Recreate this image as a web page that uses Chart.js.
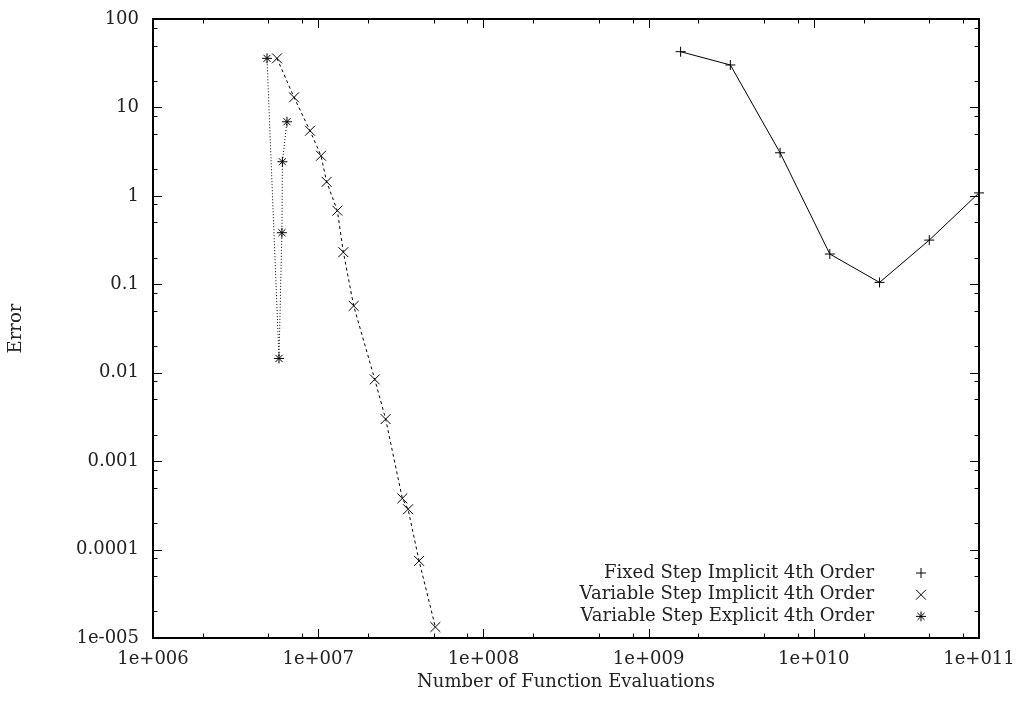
<!DOCTYPE html>
<html>
<head>
<meta charset="utf-8">
<script src="https://cdn.jsdelivr.net/npm/chart.js@4.4.1/dist/chart.umd.min.js"></script>
<style>
  html, body { margin: 0; padding: 0; background: #fff; }
</style>
</head>
<body>
<canvas id="errorChart" width="1021" height="704"></canvas>
<script>
// Error vs. number of function evaluations for the three integrators
const fixedEvals = [1.5625e9, 3.125e9, 6.25e9, 1.25e10, 2.5e10, 5e10, 1e11];
const fixedError = [42.7, 30.2, 3.07, 0.22, 0.105, 0.316, 1.08];

const implicitEvals = [5.63e6, 7.14e6, 8.92e6, 1.04e7, 1.125e7, 1.306e7, 1.42e7, 1.64e7, 2.2e7, 2.56e7, 3.23e7, 3.5e7, 4.08e7, 5.12e7];
const implicitError = [35.9, 13.0, 5.45, 2.84, 1.44, 0.68, 0.231, 0.057, 0.0084, 0.00299, 3.79e-4, 2.86e-4, 7.45e-5, 1.33e-5];

const explicitEvals = [4.9e6, 5.79e6, 6.03e6, 6.07e6, 6.47e6];
const explicitError = [35.9, 0.0145, 0.383, 2.43, 6.89];

const seriesLabels = [
    'Fixed Step Implicit 4th Order',
    'Variable Step Implicit 4th Order',
    'Variable Step Explicit 4th Order'
];

const xTickValues = [1e6, 1e7, 1e8, 1e9, 1e10, 1e11];
const xTickLabels = ['1e+006', '1e+007', '1e+008', '1e+009', '1e+010', '1e+011'];
const yTickValues = [1e-5, 1e-4, 1e-3, 1e-2, 1e-1, 1, 10, 100];
const yTickLabels = ['1e-005', '0.0001', '0.001', '0.01', '0.1', '1', '10', '100'];
const minorSteps = [2, 5, 8];

const FONT = { family: "'DejaVu Serif', serif", size: 18 };
const TEXT = '#222';

const toPoints = (xs, ys) => xs.map((x, i) => ({ x: x, y: ys[i] }));

// inward ticks on all four sides plus the frame, gnuplot style
const frameTicks = {
    id: 'frameTicks',
    afterDraw(chart) {
        const { ctx, chartArea: a, scales } = chart;
        ctx.save();
        ctx.strokeStyle = '#000';
        ctx.lineWidth = 1;

        const tick = (scale, v, len) => {
            const p = Math.round(scale.getPixelForValue(v)) + 0.5;
            ctx.beginPath();
            if (scale.isHorizontal()) {
                ctx.moveTo(p, a.bottom); ctx.lineTo(p, a.bottom - len);
                ctx.moveTo(p, a.top); ctx.lineTo(p, a.top + len);
            } else {
                ctx.moveTo(a.left, p); ctx.lineTo(a.left + len, p);
                ctx.moveTo(a.right, p); ctx.lineTo(a.right - len, p);
            }
            ctx.stroke();
        };

        [[scales.x, xTickValues], [scales.y, yTickValues]].forEach(([scale, majors]) => {
            majors.forEach((v, i) => {
                tick(scale, v, 9);
                if (i < majors.length - 1) {
                    minorSteps.forEach(m => tick(scale, v * m, 4.5));
                }
            });
        });

        ctx.lineWidth = 2;
        ctx.strokeRect(a.left, a.top, a.right - a.left, a.bottom - a.top);
        ctx.restore();
    }
};

// key in the lower right: text first, then the point symbol
const keyBox = {
    id: 'keyBox',
    afterDraw(chart) {
        const { ctx } = chart;
        ctx.save();
        ctx.font = FONT.size + 'px ' + FONT.family;
        ctx.fillStyle = TEXT;
        ctx.textAlign = 'right';
        ctx.textBaseline = 'middle';
        chart.data.datasets.forEach((ds, i) => {
            const y = 573 + i * 21.7;
            ctx.fillText(ds.label, 874, y);
            ctx.strokeStyle = '#000';
            ctx.lineWidth = 1;
            Chart.helpers.drawPoint(ctx, {
                pointStyle: ds.pointStyle,
                radius: ds.pointRadius,
                borderWidth: 1,
                rotation: 0
            }, 921, y);
        });
        ctx.restore();
    }
};

const baseSet = {
    borderColor: '#000',
    borderWidth: 1,
    pointBorderColor: '#000',
    pointBackgroundColor: 'rgba(0,0,0,0)',
    pointRadius: 5,
    pointBorderWidth: 1,
    showLine: true,
    fill: false,
    tension: 0,
    clip: false
};

new Chart(document.getElementById('errorChart'), {
    type: 'scatter',
    data: {
        datasets: [
            Object.assign({}, baseSet, {
                label: seriesLabels[0],
                data: toPoints(fixedEvals, fixedError),
                pointStyle: 'cross'
            }),
            Object.assign({}, baseSet, {
                label: seriesLabels[1],
                data: toPoints(implicitEvals, implicitError),
                pointStyle: 'crossRot',
                pointRadius: 7,
                borderDash: [3, 3]
            }),
            Object.assign({}, baseSet, {
                label: seriesLabels[2],
                data: toPoints(explicitEvals, explicitError),
                pointStyle: 'star',
                borderDash: [1, 2]
            })
        ]
    },
    options: {
        responsive: false,
        animation: false,
        layout: { padding: { top: 19, right: 42, left: 0, bottom: 0 } },
        plugins: {
            legend: { display: false },
            tooltip: { enabled: false }
        },
        scales: {
            x: {
                type: 'logarithmic',
                position: 'bottom',
                min: 1e6,
                max: 1e11,
                grid: { display: false, drawTicks: false },
                border: { display: false },
                afterBuildTicks: s => { s.ticks = xTickValues.map(v => ({ value: v })); },
                afterFit: s => { s.height = 66; s.paddingLeft = 0; s.paddingRight = 0; },
                ticks: {
                    autoSkip: false,
                    maxRotation: 0,
                    padding: 11,
                    color: TEXT,
                    font: FONT,
                    callback: (v, i) => xTickLabels[i]
                },
                title: {
                    display: true,
                    text: 'Number of Function Evaluations',
                    color: TEXT,
                    font: FONT,
                    padding: { top: 0, bottom: 11 }
                }
            },
            y: {
                type: 'logarithmic',
                position: 'left',
                min: 1e-5,
                max: 100,
                grid: { display: false, drawTicks: false },
                border: { display: false },
                afterBuildTicks: s => { s.ticks = yTickValues.map(v => ({ value: v })); },
                afterFit: s => { s.width = 153; s.paddingTop = 0; s.paddingBottom = 0; },
                ticks: {
                    autoSkip: false,
                    padding: 14,
                    color: TEXT,
                    font: FONT,
                    callback: (v, i) => yTickLabels[i]
                },
                title: {
                    display: true,
                    text: 'Error',
                    color: TEXT,
                    font: FONT,
                    padding: { top: 6, bottom: 0 }
                }
            }
        }
    },
    plugins: [frameTicks, keyBox]
});
</script>
</body>
</html>
